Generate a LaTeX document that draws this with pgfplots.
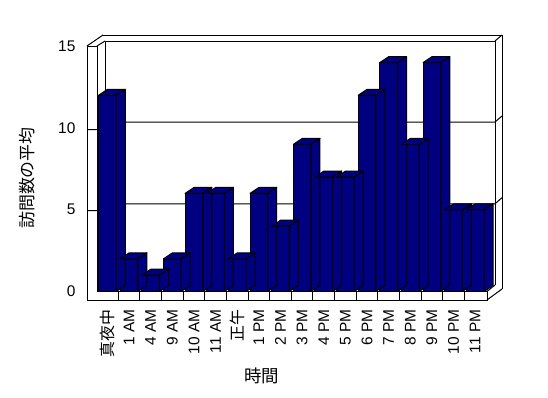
\documentclass[border=0pt]{standalone}
\usepackage{pgfplots}
\pgfplotsset{compat=1.18}
\usepackage{pgfplotstable}
\usepackage{fontspec}
\setmainfont{Liberation Sans}
\newfontfamily\cjk{Noto Sans CJK JP}
\definecolor{barnavy}{RGB}{0,0,128}
\pgfdeclareplotmark{nothing}{}
\pgfplotstableread{
x y
0 12
1 2
2 1
3 2
4 6
5 6
6 2
7 6
8 4
9 9
10 7
11 7
12 12
13 14
14 9
15 14
16 5
17 5
}\visits
\begin{document}
\begin{tikzpicture}
\useasboundingbox (0,0) rectangle (548bp,-398bp);
\begin{scope}[x=1bp,y=-1bp,line width=1bp]
  % back wall
  \draw (103,35) -- (502,35) -- (502,289);
  \draw (105,285) -- (105,41) -- (495,41) -- (495,285);
  \draw (495,41) -- (502,35);
  % left wall
  \draw (87,46) -- (87,300);
  \draw (97,46) -- (97,291.5);
  \draw (87,46) -- (97,46);
  \draw (87,46) -- (103,35);
  \draw (97,46) -- (105,41);
  % floor
  \draw (87,300) -- (487,300) -- (487,291.5) -- (97,291.5);
  \draw (487,300) -- (502,289);
  \draw (487,291.5) -- (495,285);
  \foreach \k in {1,...,17} {
    \draw ({96.6+21.63*\k},291.5) -- ({96.6+21.63*\k},300);
  }
  % gridlines
  \foreach \v in {5,10} {
    \draw (87,{291.5-16.2*\v}) -- (97,{291.5-16.2*\v}) -- (105,{285.5-16.35*\v})
      -- (495,{285.5-16.35*\v}) -- (502,{279.5-16.35*\v});
  }
\end{scope}
\begin{axis}[
  at={(96.6bp,-291.5bp)}, anchor=south west,
  scale only axis, width=389.4bp, height=245.25bp,
  xmin=-0.5, xmax=17.5, ymin=0, ymax=15,
  clip=false,
  axis line style={draw=none},
  major tick length=0pt,
  xtick={0,...,17},
  xticklabels={{\cjk\fontsize{16}{19}\selectfont 真夜中},1 AM,4 AM,9 AM,10 AM,11 AM,{\cjk\fontsize{16}{19}\selectfont 正午},1 PM,2 PM,3 PM,4 PM,5 PM,6 PM,7 PM,8 PM,9 PM,10 PM,11 PM},
  ytick={0,5,10,15},
  /pgf/number format/assume math mode=true,
  tick label style={font=\fontsize{15.5}{18}\selectfont},
  xticklabel style={rotate=90, anchor=east, inner sep=0pt},
  xticklabel shift=18bp,
  yticklabel style={anchor=east, inner sep=0pt, xshift=-21bp},
  xlabel={\cjk 時間},
  ylabel={\cjk 訪問数の平均},
  every axis x label/.style={at={(axis description cs:0.4247,-0.3446)}, anchor=center, font=\fontsize{17.5}{20}\selectfont},
  every axis y label/.style={at={(axis description cs:-0.1787,0.4628)}, anchor=center, rotate=90, font=\fontsize{17}{20}\selectfont},
]
\addplot[only marks, mark=nothing, scatter,
  visualization depends on={rawy\as\hval},
  scatter/@pre marker code/.code={%
    \filldraw[fill=barnavy,draw=black,line width=1bp,line join=round]
      (8.85bp,0pt) -- (17.85bp,6bp) -- ({17.85bp},{6bp-\hval*16.35bp}) -- ({8.85bp},{-\hval*16.35bp}) -- cycle;
    \filldraw[fill=barnavy,draw=black,line width=1bp,line join=round]
      (-8.85bp,0pt) -- (8.85bp,0pt) -- (17.85bp,6bp) -- (0.15bp,6bp) -- cycle;
  },
  scatter/@post marker code/.code={}
] table[x=x,y=y]{\visits};
\addplot[ybar, bar width=17.7bp, fill=barnavy, draw=black, line width=1bp] table[x=x,y=y]{\visits};
\end{axis}
\end{tikzpicture}
\end{document}
